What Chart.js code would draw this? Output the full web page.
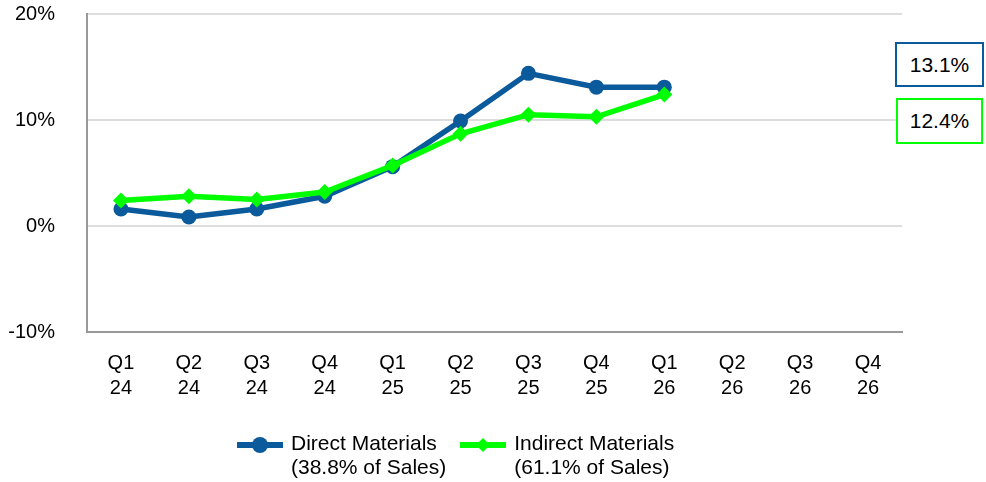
<!DOCTYPE html>
<html>
<head>
<meta charset="utf-8">
<script src="https://cdn.jsdelivr.net/npm/chart.js@4.4.1/dist/chart.umd.min.js"></script>
<style>
    html, body { margin: 0; padding: 0; background: #fff; }
    body { width: 986px; height: 482px; position: relative; overflow: hidden;
           font-family: "Liberation Sans", Arial, sans-serif; color: #000; }
    #wrap { position: absolute; left: 0; top: 0; width: 986px; height: 482px; }
    .callout { position: absolute; box-sizing: border-box; border: 2px solid; font-size: 21px;
               display: flex; align-items: center; justify-content: center; background: #fff; }
    #legend { position: absolute; left: 237px; top: 431px; display: flex; }
    .item { display: flex; align-items: flex-start; margin-right: 14px; }
    .swatch { position: relative; width: 46px; height: 26px; margin-right: 8px; }
    .swatch .ln { position: absolute; left: 0; top: 11px; width: 46px; height: 6px; }
    .swatch .dot { position: absolute; left: 15px; top: 6px; width: 16px; height: 16px; border-radius: 50%; }
    .swatch .dia { position: absolute; left: 18px; top: 9px; width: 10px; height: 10px; transform: rotate(45deg); }
    .txt { font-size: 21px; line-height: 24px; }
</style>
</head>
<body>
<div id="wrap"><canvas id="lineChart" width="986" height="482"></canvas></div>
<div class="callout" id="boxDirect" style="left:895px; top:42px; width:89px; height:45px; border-color:#0b5a9c;"></div>
<div class="callout" id="boxIndirect" style="left:896px; top:98px; width:87px; height:46px; border-color:#00ff00;"></div>
<div id="legend"></div>

<script>
const quarters = ['Q1', 'Q2', 'Q3', 'Q4', 'Q1', 'Q2', 'Q3', 'Q4', 'Q1', 'Q2', 'Q3', 'Q4'];
const years = ['24', '24', '24', '24', '25', '25', '25', '25', '26', '26', '26', '26'];
const directMaterials = [1.6, 0.85, 1.6, 2.8, 5.6, 9.9, 14.4, 13.1, 13.1, null, null, null];
const indirectMaterials = [2.4, 2.8, 2.5, 3.2, 5.7, 8.7, 10.5, 10.3, 12.4, null, null, null];
const seriesNames = [['Direct Materials', '(38.8% of Sales)'], ['Indirect Materials', '(61.1% of Sales)']];
const latestLabels = ['13.1%', '12.4%'];

const BLUE = '#0b5a9c';
const GREEN = '#00ff00';
const FONT = "'Liberation Sans', Arial, sans-serif";

const labels = quarters.map((q, i) => [q, years[i]]);

document.getElementById('boxDirect').textContent = latestLabels[0];
document.getElementById('boxIndirect').textContent = latestLabels[1];

const ctx = document.getElementById('lineChart').getContext('2d');
new Chart(ctx, {
    type: 'line',
    data: {
        labels: labels,
        datasets: [{
            label: seriesNames[0].join(' '),
            data: directMaterials,
            borderColor: BLUE,
            backgroundColor: BLUE,
            borderWidth: 5.5,
            pointStyle: 'circle',
            pointRadius: 7.5,
            pointBorderWidth: 0,
            tension: 0,
            order: 1
        }, {
            label: seriesNames[1].join(' '),
            data: indirectMaterials,
            borderColor: GREEN,
            backgroundColor: GREEN,
            borderWidth: 5.5,
            pointStyle: 'rectRot',
            pointRadius: 8,
            pointBorderWidth: 0,
            tension: 0,
            order: 0
        }]
    },
    options: {
        responsive: false,
        animation: false,
        layout: { padding: { top: 14, right: 84, left: 0, bottom: 0 } },
        plugins: {
            legend: { display: false },
            tooltip: { enabled: false }
        },
        scales: {
            x: {
                offset: true,
                grid: { display: false, drawTicks: false },
                border: { display: true, color: '#999999', width: 2 },
                ticks: {
                    color: '#000',
                    padding: 19,
                    maxRotation: 0,
                    autoSkip: false,
                    font: { family: FONT, size: 20, lineHeight: 1.25 }
                },
                afterFit: scale => { scale.height = 150; }
            },
            y: {
                min: -10,
                max: 20,
                ticks: {
                    stepSize: 10,
                    color: '#000',
                    padding: 32,
                    font: { family: FONT, size: 20 },
                    callback: v => v + '%'
                },
                grid: {
                    drawTicks: false,
                    lineWidth: 2,
                    color: ctx => ctx.tick.value === -10 ? 'rgba(0,0,0,0)' : '#dddddd'
                },
                border: { display: true, color: '#999999', width: 2 },
                afterFit: scale => {
                    scale.width = 87;
                    scale.paddingTop = 0;
                    scale.paddingBottom = 0;
                }
            }
        }
    }
});

// legend built from the series names
const legend = document.getElementById('legend');
seriesNames.forEach((name, i) => {
    const color = i === 0 ? BLUE : GREEN;
    const marker = i === 0 ? 'dot' : 'dia';
    const item = document.createElement('div');
    item.className = 'item';
    item.innerHTML = `
        <div class="swatch">
            <div class="ln" style="background:${color}"></div>
            <div class="${marker}" style="background:${color}"></div>
        </div>
        <div class="txt">${name[0]}<br>${name[1]}</div>
    `;
    legend.appendChild(item);
});
</script>
</body>
</html>
